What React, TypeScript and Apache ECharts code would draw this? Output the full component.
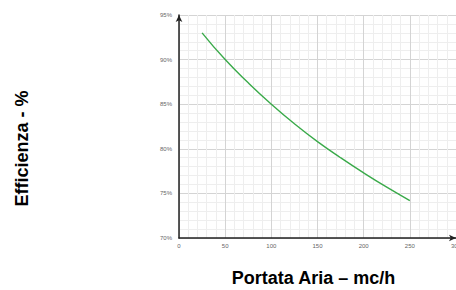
import React, { useEffect, useRef } from "react";
import * as echarts from "echarts";

const portata = [25, 50, 75, 100, 125, 150, 175, 200, 225, 250];
const efficienza = [93.0, 90.0, 87.4, 85.0, 82.8, 80.8, 79.0, 77.3, 75.7, 74.2];
const xTitle = "Portata Aria – mc/h";
const yTitle = "Efficienza - %";

export default function App() {
  const ref = useRef<HTMLDivElement>(null);
  useEffect(() => {
    if (!ref.current) return;
    const chart = echarts.init(ref.current, null, { renderer: "svg" });
    const titleFont = { fontFamily: "Liberation Sans, Arial", fontWeight: "bold", fontSize: 18, fill: "#000" };
    chart.setOption({
      animation: false,
      backgroundColor: "#ffffff",
      grid: { left: 179, top: 15, width: 277, height: 223, containLabel: false, outerBoundsMode: "none" },
      graphic: [
        {
          type: "text",
          x: 313.5,
          y: 278,
          style: { ...titleFont, text: xTitle, textAlign: "center", textVerticalAlign: "middle" },
        },
        {
          type: "text",
          x: 22,
          y: 148.5,
          rotation: Math.PI / 2,
          style: { ...titleFont, text: yTitle, textAlign: "center", textVerticalAlign: "middle" },
        },
      ],
      xAxis: {
        type: "value",
        min: 0,
        max: 300,
        interval: 50,
        axisLine: { show: true, lineStyle: { color: "#222", width: 1.5 }, symbol: ["none", "arrow"], symbolSize: [5, 7] },
        axisTick: { show: false },
        axisLabel: { fontSize: 6, color: "#666", margin: 5, fontFamily: "Liberation Sans, Arial" },
        splitLine: { show: true, lineStyle: { color: "#d4d4d4", width: 1 } },
        minorTick: { show: false, splitNumber: 5 },
        minorSplitLine: { show: true, lineStyle: { color: "#eeeeee", width: 1 } },
      },
      yAxis: {
        type: "value",
        min: 70,
        max: 95,
        interval: 5,
        axisLine: { show: true, lineStyle: { color: "#222", width: 1.5 }, symbol: ["none", "arrow"], symbolSize: [5, 7] },
        axisTick: { show: false },
        axisLabel: { fontSize: 6, color: "#666", margin: 7, formatter: "{value}%", fontFamily: "Liberation Sans, Arial" },
        splitLine: { show: true, lineStyle: { color: "#d4d4d4", width: 1 } },
        minorTick: { show: false, splitNumber: 5 },
        minorSplitLine: { show: true, lineStyle: { color: "#eeeeee", width: 1 } },
      },
      series: [
        {
          type: "line",
          data: portata.map((x, i) => [x, efficienza[i]]),
          smooth: true,
          showSymbol: false,
          lineStyle: { color: "#3aaa4a", width: 1.4 },
        },
      ],
    });
    return () => chart.dispose();
  }, []);
  return (
    <div
      ref={ref}
      style={{ position: "fixed", left: 0, top: 0, width: 456, height: 290, background: "#fff" }}
    />
  );
}
